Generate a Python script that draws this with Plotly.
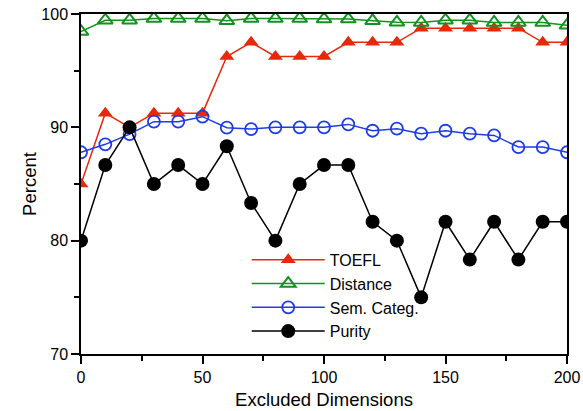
import plotly.graph_objects as go

dims = [0, 10, 20, 30, 40, 50, 60, 70, 80, 90, 100, 110, 120, 130, 140, 150, 160, 170, 180, 190, 200]
toefl = [85, 91.25, 90, 91.25, 91.25, 91.25, 96.25, 97.5, 96.25, 96.25, 96.25, 97.5, 97.5, 97.5,
         98.75, 98.75, 98.75, 98.75, 98.75, 97.5, 97.5]
distance = [98.45, 99.45, 99.45, 99.6, 99.6, 99.6, 99.4, 99.6, 99.6, 99.6, 99.55, 99.55, 99.4, 99.27,
            99.25, 99.45, 99.45, 99.25, 99.25, 99.25, 99.0]
semcat = [87.8, 88.5, 89.4, 90.5, 90.5, 90.94, 89.97, 89.85, 90.0, 90.0, 90.0, 90.26, 89.7, 89.88,
          89.44, 89.7, 89.44, 89.29, 88.26, 88.26, 87.8]
purity = [80, 86.67, 90, 85, 86.67, 85, 88.33, 83.33, 80, 85, 86.67, 86.67, 81.67, 80, 75,
          81.67, 78.33, 81.67, 78.33, 81.67, 81.67]

RED = "rgb(232,40,12)"
GREEN = "rgb(20,145,30)"
BLUE = "rgb(30,60,230)"

fig = go.Figure()
fig.add_trace(go.Scatter(x=dims, y=toefl, name="TOEFL", mode="lines+markers",
                         line=dict(color=RED, width=1.5),
                         marker=dict(symbol="triangle-up", size=13, color=RED)))
fig.add_trace(go.Scatter(x=dims, y=distance, name="Distance", mode="lines+markers",
                         line=dict(color=GREEN, width=1.5),
                         marker=dict(symbol="triangle-up-open", size=13, color=GREEN,
                                     line=dict(width=2, color=GREEN))))
fig.add_trace(go.Scatter(x=dims, y=semcat, name="Sem. Categ.", mode="lines+markers",
                         line=dict(color=BLUE, width=1.5),
                         marker=dict(symbol="circle-open", size=12, color=BLUE,
                                     line=dict(width=1.8, color=BLUE))))
fig.add_trace(go.Scatter(x=dims, y=purity, name="Purity", mode="lines+markers",
                         line=dict(color="black", width=1.5),
                         marker=dict(symbol="circle", size=14, color="black")))

axis_common = dict(showline=True, linecolor="black", linewidth=1.5, mirror=True,
                   ticks="outside", ticklen=8, tickwidth=1.5, tickcolor="black",
                   showgrid=False, zeroline=False, automargin=False,
                   tickfont=dict(family="Liberation Sans, Arial", size=16, color="black"))

fig.update_xaxes(range=[0, 200], tickvals=[0, 50, 100, 150, 200],
                 title=dict(text="Excluded Dimensions", font=dict(size=18.5, color="black"), standoff=8),
                 minor=dict(dtick=25, tick0=0, ticks="outside", ticklen=5, tickwidth=1.5, tickcolor="black"),
                 **axis_common)
fig.update_yaxes(range=[70, 100], tickvals=[70, 80, 90, 100],
                 title=dict(text="Percent", font=dict(size=18.5, color="black"), standoff=0),
                 minor=dict(dtick=5, tick0=70, ticks="outside", ticklen=5, tickwidth=1.5, tickcolor="black"),
                 **axis_common)

fig.update_layout(
    width=583, height=411, autosize=False,
    margin=dict(l=81, r=16, t=14, b=57),
    plot_bgcolor="white", paper_bgcolor="white",
    font=dict(family="Liberation Sans, Arial", color="black"),
    legend=dict(x=0.341, y=0.327, xanchor="left", yanchor="top",
                bgcolor="rgba(0,0,0,0)", borderwidth=0,
                font=dict(size=16, color="black"), itemwidth=73,
                tracegroupgap=0),
    showlegend=True,
)

fig.write_html("out.html", config={"displayModeBar": False},
               post_script="document.body.style.margin='0';document.body.style.overflow='hidden';")
